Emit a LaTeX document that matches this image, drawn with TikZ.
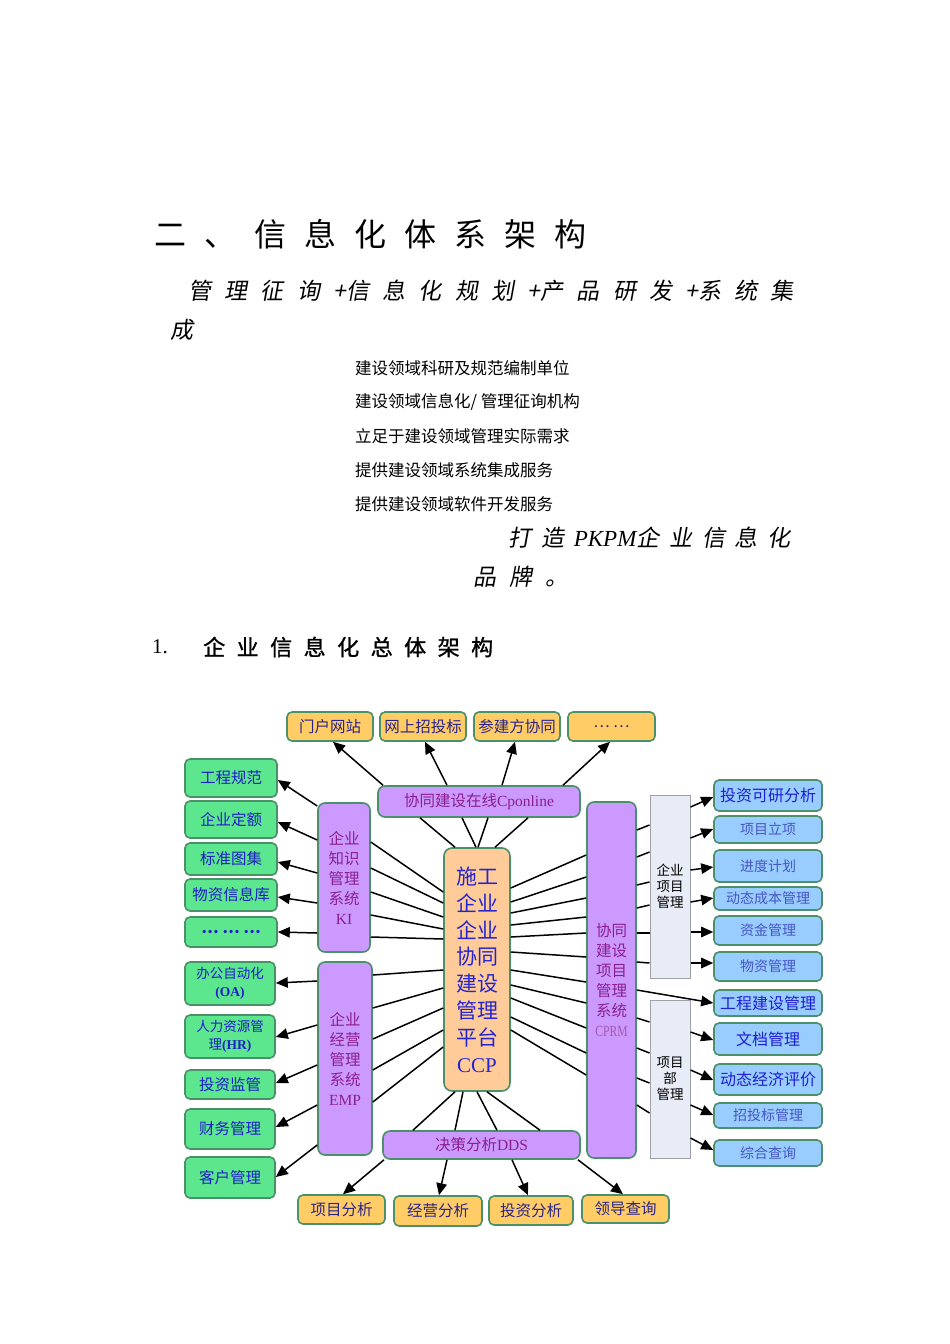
\documentclass[tikz,border=0pt]{standalone}
\usepackage{fontspec}
\setmainfont{Liberation Serif}
\newfontfamily\cjk{Noto Sans CJK SC}
\newfontfamily\cjkit{Noto Sans CJK SC}[FakeSlant=0.18]
\newfontfamily\cjkmed{Noto Sans CJK SC}[FakeBold=1.2]
\usetikzlibrary{arrows.meta}
\definecolor{edgegreen}{HTML}{4A9068}
\definecolor{boxorange}{HTML}{FFCC66}
\definecolor{ccporange}{HTML}{FFCC99}
\definecolor{boxgreen}{HTML}{5CE68E}
\definecolor{boxpurple}{HTML}{CC99FF}
\definecolor{boxblue}{HTML}{99CCFF}
\definecolor{greyfill}{HTML}{E8ECF6}
\definecolor{greyedge}{HTML}{A0A0A8}
\definecolor{navytxt}{HTML}{2A2488}
\definecolor{greentxt}{HTML}{1E1EC8}
\definecolor{purptxt}{HTML}{8A1F8E}
\definecolor{ccptxt}{HTML}{2424D0}
\definecolor{bluetxt}{HTML}{1E1ED2}
\definecolor{lighttxt}{HTML}{4656C4}
\newcommand\tg{\hspace{18pt}}
\newcommand\sg{\hspace{13.3pt}}
\newcommand\bg{\hspace{9.8pt}}
\newcommand\hg{\hspace{11.5pt}}
\newcommand\mybox[7]{\node[#2, minimum width={#5-#3}, minimum height={#6-#4}] (#1) at ({(#3+#5)/2},{(#4+#6)/2}) {#7};}
\begin{document}
\begin{tikzpicture}[x=1pt,y=-1pt,
  base/.style={rounded corners=5pt, line width=1.6pt, draw=edgegreen, inner sep=0pt, align=center},
  obox/.style={base, fill=boxorange, text=navytxt, font=\cjk\fontsize{15.5}{17}\selectfont},
  gbox/.style={base, fill=boxgreen, text=greentxt, font=\cjk\fontsize{15.5}{17}\selectfont},
  gsmall/.style={gbox, font=\cjk\fontsize{13.5}{18}\selectfont},
  pbox/.style={base, rounded corners=7pt, fill=boxpurple, text=purptxt, font=\cjk\fontsize{15.5}{20}\selectfont},
  cbox/.style={base, rounded corners=8pt, fill=ccporange, text=ccptxt, font=\cjk\fontsize{21}{26.8}\selectfont},
  bbox/.style={base, fill=boxblue, text=bluetxt, font=\cjk\fontsize{16}{17}\selectfont},
  lbox/.style={bbox, text=lighttxt, font=\cjk\fontsize{14}{16}\selectfont},
  greybox/.style={draw=greyedge, line width=1pt, fill=greyfill, inner sep=0pt, align=center, font=\cjk\fontsize{13.5}{16}\selectfont},
  txt/.style={inner sep=0pt, anchor=west},
  con/.style={line width=1.5pt, black},
  arr/.style={con, -{Triangle[length=12pt,width=10.5pt]}},
]
\fill[white] (0,0) rectangle (950,1344);
\useasboundingbox (0,0) rectangle (950,1344);

% ---------- text part ----------
\node[txt, font=\cjk\fontsize{32}{32}\selectfont] (title) at (154,234) {二\tg 、\tg 信\tg 息\tg 化\tg 体\tg 系\tg 架\tg 构};
\node[txt, font=\cjkit\fontsize{23}{23}\selectfont] (sub1) at (188,291) {管\sg 理\sg 征\sg 询\sg +信\sg 息\sg 化\sg 规\sg 划\sg +产\sg 品\sg 研\sg 发\sg +系\sg 统\sg 集};
\node[txt, font=\cjkit\fontsize{23}{23}\selectfont] (sub2) at (170,330) {成};
\node[txt, font=\cjk\fontsize{16.5}{16.5}\selectfont] (l1) at (355,368) {建设领域科研及规范编制单位};
\node[txt, font=\cjk\fontsize{16.5}{16.5}\selectfont] (l2) at (355,402) {建设领域信息化/ 管理征询机构};
\node[txt, font=\cjk\fontsize{16.5}{16.5}\selectfont] (l3) at (355,436) {立足于建设领域管理实际需求};
\node[txt, font=\cjk\fontsize{16.5}{16.5}\selectfont] (l4) at (355,470) {提供建设领域系统集成服务};
\node[txt, font=\cjk\fontsize{16.5}{16.5}\selectfont] (l5) at (355,504) {提供建设领域软件开发服务};
\node[txt, font=\cjkit\fontsize{23}{23}\selectfont] (brand1) at (508,538) {打\bg 造\bg {\rmfamily\itshape PKPM}企\bg 业\bg 信\bg 息\bg 化};
\node[txt, font=\cjkit\fontsize{23}{23}\selectfont] (brand2) at (473,577) {品\sg 牌\sg 。};
\node[txt, font=\fontsize{21}{21}\selectfont] (secnum) at (152,647) {1.};
\node[txt, font=\cjkmed\fontsize{22}{22}\selectfont] (sec) at (203,647) {企\hg 业\hg 信\hg 息\hg 化\hg 总\hg 体\hg 架\hg 构};

% ---------- diagram nodes ----------
\mybox{web}{obox}{287}{712}{373}{741}{门户网站}
\mybox{bid}{obox}{380}{712}{466}{741}{网上招投标}
\mybox{party}{obox}{474}{712}{560}{741}{参建方协同}
\mybox{tdots}{obox}{568}{712}{655}{741}{… …}

\mybox{cp}{pbox}{378}{786}{580}{817}{协同建设在线{\rmfamily Cponline}}

\mybox{g1}{gbox}{185}{759}{277}{797}{工程规范}
\mybox{g2}{gbox}{185}{801}{277}{838}{企业定额}
\mybox{g3}{gbox}{185}{843}{277}{875}{标准图集}
\mybox{g4}{gbox}{185}{879}{277}{911}{物资信息库}
\mybox{g5}{gbox}{185}{917}{277}{947}{\bfseries … … …}

\mybox{ki}{pbox}{318}{803}{370}{952}{企业\\知识\\管理\\系统\\{\rmfamily KI}}
\mybox{ccp}{cbox}{444}{848}{510}{1091}{施工\\企业\\企业\\协同\\建设\\管理\\平台\\{\rmfamily CCP}}
\mybox{emp}{pbox}{318}{962}{372}{1155}{企业\\经营\\管理\\系统\\{\rmfamily EMP}}

\mybox{h1}{gsmall}{185}{962}{275}{1005}{办公自动化\\{\rmfamily\bfseries (OA)}}
\mybox{h2}{gsmall}{185}{1015}{275}{1058}{人力资源管\\理{\rmfamily\bfseries (HR)}}
\mybox{h3}{gbox}{185}{1070}{275}{1099}{投资监管}
\mybox{h4}{gbox}{185}{1109}{275}{1149}{财务管理}
\mybox{h5}{gbox}{185}{1157}{275}{1198}{客户管理}

\mybox{dds}{pbox}{383}{1131}{580}{1159}{决策分析{\rmfamily DDS}}
\mybox{b1}{obox}{298}{1195}{385}{1224}{项目分析}
\mybox{b2}{obox}{394}{1196}{482}{1226}{经营分析}
\mybox{b3}{obox}{489}{1196}{573}{1225}{投资分析}
\mybox{b4}{obox}{582}{1195}{669}{1223}{领导查询}

\mybox{cprm}{pbox}{587}{802}{636}{1158}{协同\\建设\\项目\\管理\\系统\\{\rmfamily\color{purptxt!75}\scalebox{0.75}[1]{CPRM}}}
\mybox{gp1}{greybox}{650}{795}{690}{978}{企业\\项目\\管理}
\mybox{gp2}{greybox}{650}{1000}{690}{1158}{项目\\部\\管理}

\mybox{r1}{bbox}{714}{780}{822}{811}{投资可研分析}
\mybox{r2}{lbox}{714}{816}{822}{843}{项目立项}
\mybox{r3}{lbox}{714}{850}{822}{882}{进度计划}
\mybox{r4}{lbox}{714}{887}{822}{910}{动态成本管理}
\mybox{r5}{lbox}{714}{916}{822}{945}{资金管理}
\mybox{r6}{lbox}{714}{952}{822}{981}{物资管理}
\mybox{r7}{bbox}{714}{990}{822}{1016}{工程建设管理}
\mybox{r8}{bbox}{714}{1023}{822}{1055}{文档管理}
\mybox{r9}{bbox}{714}{1064}{822}{1095}{动态经济评价}
\mybox{r10}{lbox}{714}{1103}{822}{1128}{招投标管理}
\mybox{r11}{lbox}{714}{1140}{822}{1166}{综合查询}

% ---------- connectors ----------
% Cponline -> top boxes
\draw[arr] (cp.north -| 383,0) -- (web.south -| 333,0);
\draw[arr] (cp.north -| 447,0) -- (bid.south -| 425,0);
\draw[arr] (cp.north -| 502,0) -- (party.south -| 515,0);
\draw[arr] (cp.north -| 563,0) -- (tdots.south -| 610,0);
% CCP -- Cponline
\draw[con] (ccp.north -| 455,0) -- (cp.south -| 420,0);
\draw[con] (ccp.north -| 476,0) -- (cp.south -| 462,0);
\draw[con] (ccp.north -| 478,0) -- (cp.south -| 488,0);
\draw[con] (ccp.north -| 495,0) -- (cp.south -| 528,0);
% CCP -- KI
\draw[con] (ki.east |- 0,842) -- (ccp.west |- 0,892);
\draw[con] (ki.east |- 0,868) -- (ccp.west |- 0,903);
\draw[con] (ki.east |- 0,892) -- (ccp.west |- 0,917);
\draw[con] (ki.east |- 0,915) -- (ccp.west |- 0,929);
\draw[con] (ki.east |- 0,937) -- (ccp.west |- 0,939);
% KI -> green
\draw[arr] (ki.west |- 0,806) -- (g1.east |- 0,780);
\draw[arr] (ki.west |- 0,840) -- (g2.east |- 0,822);
\draw[arr] (ki.west |- 0,873) -- (g3.east |- 0,862);
\draw[arr] (ki.west |- 0,903) -- (g4.east |- 0,897);
\draw[arr] (ki.west |- 0,933) -- (g5.east |- 0,932);
% CCP -- EMP
\draw[con] (emp.east |- 0,975) -- (ccp.west |- 0,970);
\draw[con] (emp.east |- 0,1008) -- (ccp.west |- 0,988);
\draw[con] (emp.east |- 0,1039) -- (ccp.west |- 0,1008);
\draw[con] (emp.east |- 0,1070) -- (ccp.west |- 0,1030);
\draw[con] (emp.east |- 0,1102) -- (ccp.west |- 0,1047);
% EMP -> green
\draw[arr] (emp.west |- 0,981) -- (h1.east |- 0,983);
\draw[arr] (emp.west |- 0,1025) -- (h2.east |- 0,1037);
\draw[arr] (emp.west |- 0,1065) -- (h3.east |- 0,1083);
\draw[arr] (emp.west |- 0,1105) -- (h4.east |- 0,1127);
\draw[arr] (emp.west |- 0,1145) -- (h5.east |- 0,1177);
% CCP -- DDS
\draw[con] (ccp.south -| 455,0) -- (dds.north -| 413,0);
\draw[con] (ccp.south -| 463,0) -- (dds.north -| 455,0);
\draw[con] (ccp.south -| 477,0) -- (dds.north -| 497,0);
\draw[con] (ccp.south -| 487,0) -- (dds.north -| 540,0);
% DDS -> bottom
\draw[arr] (dds.south -| 384,0) -- (b1.north -| 343,0);
\draw[arr] (dds.south -| 447,0) -- (b2.north -| 439,0);
\draw[arr] (dds.south -| 512,0) -- (b3.north -| 528,0);
\draw[arr] (dds.south -| 578,0) -- (b4.north -| 623,0);
% CCP -- CPRM
\draw[con] (ccp.east |- 0,888) -- (cprm.west |- 0,855);
\draw[con] (ccp.east |- 0,902) -- (cprm.west |- 0,877);
\draw[con] (ccp.east |- 0,913) -- (cprm.west |- 0,898);
\draw[con] (ccp.east |- 0,925) -- (cprm.west |- 0,917);
\draw[con] (ccp.east |- 0,937) -- (cprm.west |- 0,933);
\draw[con] (ccp.east |- 0,952) -- (cprm.west |- 0,957);
\draw[con] (ccp.east |- 0,970) -- (cprm.west |- 0,982);
\draw[con] (ccp.east |- 0,985) -- (cprm.west |- 0,1003);
\draw[con] (ccp.east |- 0,998) -- (cprm.west |- 0,1028);
\draw[con] (ccp.east |- 0,1017) -- (cprm.west |- 0,1053);
\draw[con] (ccp.east |- 0,1030) -- (cprm.west |- 0,1075);
% CPRM -- grey boxes
\draw[con] (cprm.east |- 0,830) -- (gp1.west |- 0,825);
\draw[con] (cprm.east |- 0,857) -- (gp1.west |- 0,852);
\draw[con] (cprm.east |- 0,885) -- (gp1.west |- 0,882);
\draw[con] (cprm.east |- 0,908) -- (gp1.west |- 0,905);
\draw[con] (cprm.east |- 0,933) -- (gp1.west |- 0,933);
\draw[con] (cprm.east |- 0,962) -- (gp1.west |- 0,963);
\draw[arr] (cprm.east |- 0,990) -- (r7.west |- 0,1003);
\draw[con] (cprm.east |- 0,1018) -- (gp2.west |- 0,1022);
\draw[con] (cprm.east |- 0,1048) -- (gp2.west |- 0,1053);
\draw[con] (cprm.east |- 0,1078) -- (gp2.west |- 0,1083);
\draw[con] (cprm.east |- 0,1105) -- (gp2.west |- 0,1113);
% grey -> blue
\draw[arr] (gp1.east |- 0,807) -- (r1.west |- 0,797);
\draw[arr] (gp1.east |- 0,838) -- (r2.west |- 0,829);
\draw[arr] (gp1.east |- 0,870) -- (r3.west |- 0,867);
\draw[arr] (gp1.east |- 0,902) -- (r4.west |- 0,898);
\draw[arr] (gp1.east |- 0,932) -- (r5.west |- 0,932);
\draw[arr] (gp1.east |- 0,963) -- (r6.west |- 0,963);
\draw[arr] (gp2.east |- 0,1032) -- (r8.west |- 0,1040);
\draw[arr] (gp2.east |- 0,1070) -- (r9.west |- 0,1080);
\draw[arr] (gp2.east |- 0,1105) -- (r10.west |- 0,1115);
\draw[arr] (gp2.east |- 0,1138) -- (r11.west |- 0,1150);
\end{tikzpicture}
\end{document}
